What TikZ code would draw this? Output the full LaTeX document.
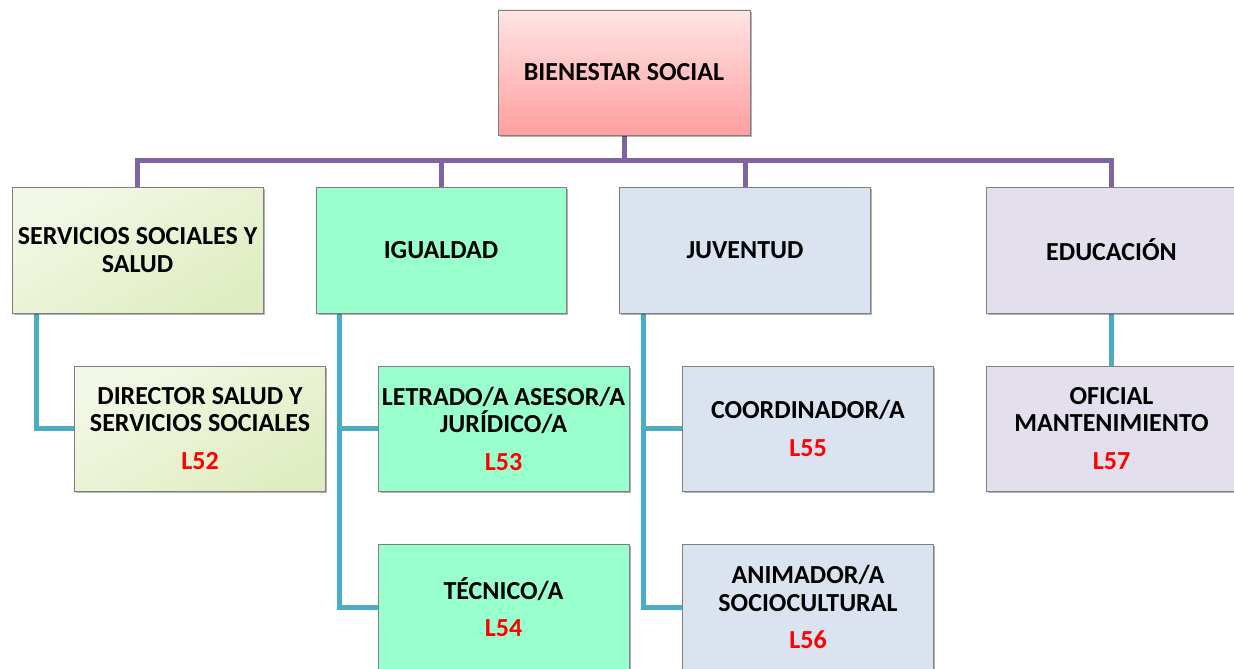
\documentclass[tikz,border=0pt]{standalone}
\usepackage{fontspec}
\setmainfont{Carlito}
\usetikzlibrary{shadows,calc,backgrounds}
\definecolor{busc}{HTML}{8064A2}
\definecolor{tealc}{HTML}{4BACC6}
\definecolor{boxgray}{HTML}{7F7F7F}
\definecolor{pinktop}{HTML}{FFE4E4}
\definecolor{pinkbot}{HTML}{FF9F9F}
\definecolor{greenA}{HTML}{F3F8E6}
\definecolor{greenB}{HTML}{E0EDC2}
\definecolor{mint}{HTML}{99FFCC}
\definecolor{bluegray}{HTML}{DCE3F0}
\definecolor{lilac}{HTML}{E4DFEC}
\definecolor{redlab}{HTML}{FF0000}
\begin{document}
\begin{tikzpicture}[x=1pt,y=-1pt,
  box/.style={draw=boxgray, line width=0.8pt, minimum width=251pt, minimum height=126pt,
    inner sep=0pt, align=center, font=\fontsize{26}{27.5}\selectfont\bfseries,
    drop shadow={shadow xshift=1.5pt, shadow yshift=-2pt, opacity=0.3, fill=black}},
  bus/.style={draw=busc, line width=5pt},
  link/.style={draw=tealc, line width=5pt}]
\useasboundingbox (0,0) rectangle (1234,669);

\node[box, top color=pinktop, bottom color=pinkbot, minimum width=252pt, minimum height=125pt] (top) at (624,72.5) {BIENESTAR SOCIAL};

\node[box, top color=greenA, bottom color=greenB, shading angle=30] (ss) at (137.5,250) {SERVICIOS SOCIALES Y\\SALUD};
\node[box, fill=mint, minimum width=250pt] (ig) at (441,250) {IGUALDAD};
\node[box, fill=bluegray] (ju) at (745,250) {JUVENTUD};
\node[box, fill=lilac] (ed) at (1111.5,250) {EDUCACIÓN};

\node[box, top color=greenA, bottom color=greenB, shading angle=30, minimum height=125pt] (dir) at (200,428.5) {DIRECTOR SALUD Y\\SERVICIOS SOCIALES\\[10pt]\textcolor{redlab}{L52}};
\node[box, fill=mint, minimum height=125pt] (let) at (503.5,428.5) {LETRADO/A ASESOR/A\\JURÍDICO/A\\[10pt]\textcolor{redlab}{L53}};
\node[box, fill=mint] (tec) at (503.5,607) {TÉCNICO/A\\[10pt]\textcolor{redlab}{L54}};
\node[box, fill=bluegray, minimum height=125pt] (coo) at (808,428.5) {COORDINADOR/A\\[10pt]\textcolor{redlab}{L55}};
\node[box, fill=bluegray] (ani) at (808,607) {ANIMADOR/A\\SOCIOCULTURAL\\[10pt]\textcolor{redlab}{L56}};
\node[box, fill=lilac, minimum height=125pt] (ofi) at (1111.5,428.5) {OFICIAL\\MANTENIMIENTO\\[10pt]\textcolor{redlab}{L57}};

\begin{scope}[on background layer]
  \coordinate (busy) at ($(top.south)+(0,25)$);
  \draw[bus] (top.south) -- (busy) -| (ss.north);
  \draw[bus] (busy) -| (ig.north);
  \draw[bus] (busy) -| (ju.north);
  \draw[bus] (busy) -| (ed.north);
  \draw[link] ($(ss.south west)+(25,0)$) |- (dir.west);
  \draw[link] ($(ig.south west)+(24,0)$) |- (let.west);
  \draw[link] ($(ig.south west)+(24,0)$) |- (tec.west);
  \draw[link] ($(ju.south west)+(24,0)$) |- (coo.west);
  \draw[link] ($(ju.south west)+(24,0)$) |- (ani.west);
  \draw[link] (ed.south) -- (ofi.north);
\end{scope}
\end{tikzpicture}
\end{document}
